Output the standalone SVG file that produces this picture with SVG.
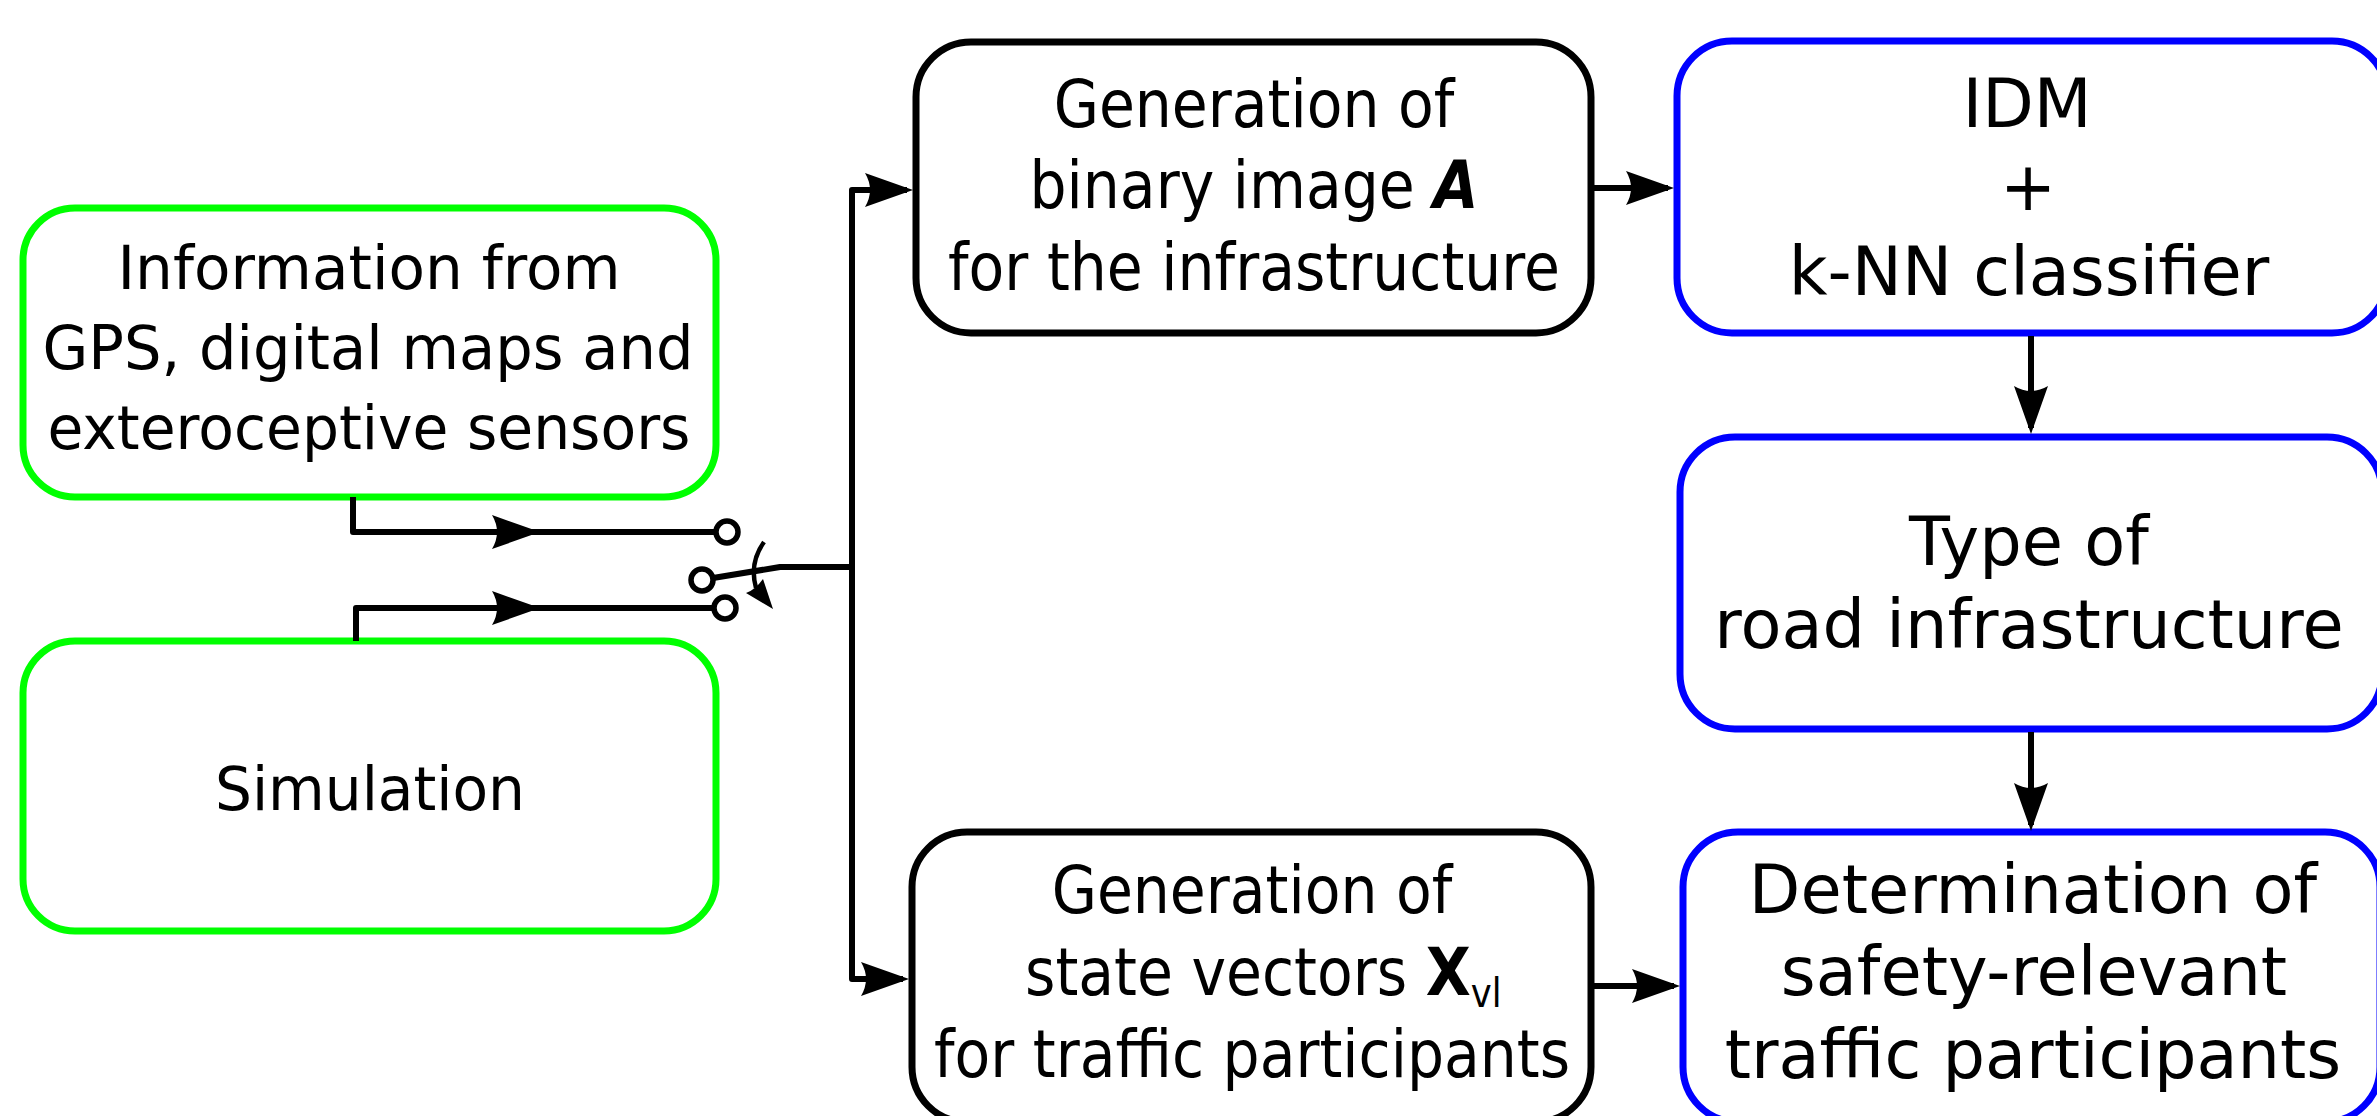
<svg xmlns="http://www.w3.org/2000/svg" xmlns:xlink="http://www.w3.org/1999/xlink" width="2377" height="1116" viewBox="0 0 2377 1116">
<style>
.box{fill:#fff;stroke-width:7}
.g{stroke:#00ff00}
.k{stroke:#000}
.b{stroke:#0000ff}
.t{font-family:"DejaVu Sans","Liberation Sans",sans-serif;fill:#000;text-anchor:middle}
.l{font-size:61px}
.m{font-size:66px}
.r{font-size:67px}
.c{fill:none;stroke:#000;stroke-width:6;stroke-linejoin:round}
.o{fill:#fff;stroke:#000;stroke-width:5.5}
</style>
<defs>
<marker id="ah" markerUnits="userSpaceOnUse" markerWidth="60" markerHeight="40" viewBox="-52 -20 60 40" refX="-6" refY="0" orient="auto">
<path d="M0,0 L-48,-17 Q-38,0 -48,17 Z" fill="#000"/>
</marker>
</defs>
<rect width="2377" height="1116" fill="#fff"/>

<g id="info">
<rect class="box g" x="23" y="208" width="693" height="289" rx="52"/>
<text class="t l" x="369" y="289" textLength="503" lengthAdjust="spacingAndGlyphs">Information from</text>
<text class="t l" x="368" y="369" textLength="651" lengthAdjust="spacingAndGlyphs">GPS, digital maps and</text>
<text class="t l" x="369" y="449" textLength="643" lengthAdjust="spacingAndGlyphs">exteroceptive sensors</text>
</g>

<g id="simulation">
<rect class="box g" x="23" y="641" width="693" height="290" rx="52"/>
<text class="t l" x="370" y="810" textLength="310" lengthAdjust="spacingAndGlyphs">Simulation</text>
</g>

<g id="genA">
<rect class="box k" x="916" y="42" width="675" height="291" rx="55"/>
<g transform="translate(1254,0) scale(0.885,1)">
<text class="t m" x="0" y="127">Generation of</text>
<text class="t m" x="0" y="208">binary image <tspan font-weight="bold" font-style="italic">A</tspan></text>
<text class="t m" x="0" y="290">for the infrastructure</text>
</g>
</g>

<g id="genX">
<rect class="box k" x="912" y="832" width="679" height="290" rx="55"/>
<g transform="translate(1252,0) scale(0.885,1)">
<text class="t m" x="0" y="913">Generation of</text>
<text class="t m" x="0" y="1077">for traffic participants</text>
</g>
<g transform="translate(1025,0) scale(0.885,1)">
<text class="t m" x="0" y="995" style="text-anchor:start">state vectors <tspan font-weight="bold">X</tspan><tspan font-size="40" dy="12">vl</tspan></text>
</g>
</g>

<g id="idm">
<rect class="box b" x="1677" y="41" width="710" height="292" rx="55"/>
<text class="t r" x="2027" y="127">IDM</text>
<text class="t r" x="2028" y="210">+</text>
<text class="t r" x="2029" y="295">k-NN classifier</text>
</g>

<g id="type">
<rect class="box b" x="1680" y="437" width="702" height="292" rx="55"/>
<text class="t r" x="2029" y="565">Type of</text>
<text class="t r" x="2029" y="648">road infrastructure</text>
</g>

<g id="det">
<rect class="box b" x="1683" y="832" width="697" height="290" rx="55"/>
<text class="t r" x="2033" y="913">Determination of</text>
<text class="t r" x="2034" y="995">safety-relevant</text>
<text class="t r" x="2033" y="1078">traffic participants</text>
</g>

<g id="connectors">
<path class="c" d="M353,497 V532 H534" marker-end="url(#ah)"/>
<path class="c" d="M534,532 H716"/>
<path class="c" d="M356,641 V608 H534" marker-end="url(#ah)"/>
<path class="c" d="M534,608 H714"/>
<circle class="o" cx="727" cy="532" r="11"/>
<circle class="o" cx="702" cy="580" r="11"/>
<circle class="o" cx="725" cy="608" r="11"/>
<path class="c" d="M713,578 L780,567 H852"/>
<path d="M764,542 Q749,563 756,588" fill="none" stroke="#000" stroke-width="4.5"/>
<path d="M773,609 L746,593 Q755,590 763,579 Z" fill="#000"/>
<path class="c" d="M852,567 V190 H907" marker-end="url(#ah)"/>
<path class="c" d="M852,567 V979 H903" marker-end="url(#ah)"/>
<path class="c" d="M1594,188 H1668" marker-end="url(#ah)"/>
<path class="c" d="M1594,986 H1674" marker-end="url(#ah)"/>
<path class="c" d="M2031,336 V428" marker-end="url(#ah)"/>
<path class="c" d="M2031,732 V825" marker-end="url(#ah)"/>
</g>
</svg>
